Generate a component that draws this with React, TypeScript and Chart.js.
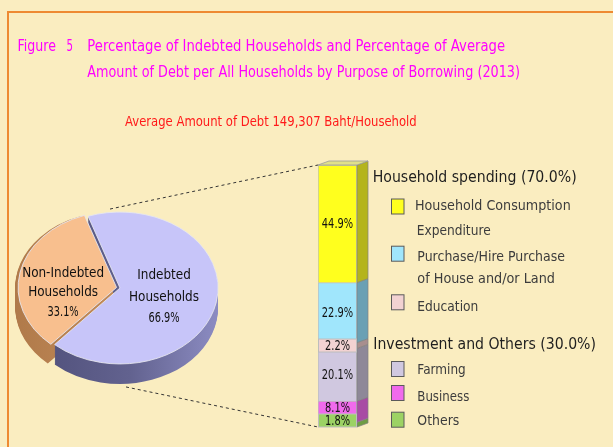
import React, { useEffect, useRef } from "react";
import { Chart, registerables } from "chart.js";
Chart.register(...registerables);

// ---------------- data ----------------
const titleFigure = "Figure";
const titleNumber = "5";
const titleLines = [
  "Percentage of Indebted Households and Percentage of Average",
  "Amount of Debt per All Households by Purpose of Borrowing (2013)",
];
const subtitle = "Average Amount of Debt 149,307 Baht/Household";

const pieCategories = ["Indebted Households", "Non-Indebted Households"];
const pieLabelLines = [["Indebted", "Households"], ["Non-Indebted", "Households"]];
const pieValues = [66.9, 33.1];
const pieColors = ["#C7C5F9", "#F8BF8E"];
const pieSideColors = [
  ["#4E4E78", "#62628F", "#8C8CC2"],
  ["#B07A4A", "#C48C5A", "#D6A06C"],
];
const pieOffsets = [0, 14];

const purposeCategories = [
  "Household Consumption Expenditure",
  "Purchase/Hire Purchase of House and/or Land",
  "Education",
  "Farming",
  "Business",
  "Others",
];
const purposeLegendLines = [
  ["Household Consumption", "Expenditure"],
  ["Purchase/Hire Purchase", "of House and/or Land"],
  ["Education"],
  ["Farming"],
  ["Business"],
  ["Others"],
];
const purposeValues = [44.9, 22.9, 2.2, 20.1, 8.1, 1.8];
const purposeColors = ["#FFFF1E", "#A0E6FC", "#F2D2D2", "#D0C8E0", "#F06AEC", "#9CD264"];
const purposeSideColors = ["#B4B41C", "#6AA0B4", "#A88E8E", "#8E8898", "#A84CA4", "#6E9C44"];
const stackOrder = [5, 4, 3, 2, 1, 0]; // bottom to top

const groupNames = ["Household spending", "Investment and Others"];
const groupValues = [70.0, 30.0];
const groupMembers = [[0, 1, 2], [3, 4, 5]];

// ---------------- layout ----------------
const FONT = "'DejaVu Sans', Verdana, sans-serif";
const BG = "#FAEDC0";
const PIE_BOX = { left: 0, top: 150, width: 318, height: 290 };
const BAR_BOX = { left: 300, top: 150, width: 90, height: 290 };
const SY = 0.775;
const DEPTH = 20;
const BAR_DX = 11;
const BAR_DY = 4;
const BAR_LABEL_H = 13;

const legendHeaderLayout = [
  { x: 372.7, y: 182.3, w: 204 },
  { x: 373.3, y: 349, w: 222.7 },
];
const legendLineLayout = [
  [{ x: 415, y: 210, w: 155.7 }, { x: 416.7, y: 234.5, w: 74 }],
  [{ x: 417.3, y: 260.7, w: 147.7 }, { x: 417.3, y: 283.3, w: 137.7 }],
  [{ x: 417.3, y: 310.7, w: 61 }],
  [{ x: 417.3, y: 374, w: 48.4 }],
  [{ x: 417.3, y: 401, w: 52 }],
  [{ x: 417.3, y: 425, w: 42 }],
];
const legendBoxTops = [198.5, 245.7, 294.3, 361, 385, 411.7];

const pieLabelLayout = [
  { f: 0.5, dx: -4, dy: 5, lh: 21.7 },
  { f: 0.5, dx: -2, dy: 17, lh: 19.2 },
];

function drawSquashed(
  ctx: CanvasRenderingContext2D,
  text: string,
  x: number,
  y: number,
  font: string,
  sx: number,
  color: string,
  baseline: CanvasTextBaseline = "alphabetic"
) {
  ctx.save();
  ctx.font = font;
  ctx.fillStyle = color;
  ctx.textAlign = "center";
  ctx.textBaseline = baseline;
  ctx.translate(x, y);
  ctx.scale(sx, 1);
  ctx.fillText(text, 0, 0);
  ctx.restore();
}

const bar3d = {
  id: "bar3d",
  afterDatasetsDraw(chart: any) {
    const ctx: CanvasRenderingContext2D = chart.ctx;
    const n = chart.data.datasets.length;
    const area = chart.chartArea;
    for (let di = 0; di < n; di++) {
      const el = chart.getDatasetMeta(di).data[0];
      const { x, y, base, width } = el.getProps(["x", "y", "base", "width"], true);
      const right = x + width / 2;
      const left = x - width / 2;
      const idx = stackOrder[di];
      ctx.save();
      ctx.beginPath();
      ctx.moveTo(right, y);
      ctx.lineTo(right + BAR_DX, y - BAR_DY);
      ctx.lineTo(right + BAR_DX, base - BAR_DY);
      ctx.lineTo(right, base);
      ctx.closePath();
      ctx.fillStyle = purposeSideColors[idx];
      ctx.fill();
      ctx.strokeStyle = "rgba(130,130,130,0.9)";
      ctx.lineWidth = 0.8;
      ctx.stroke();
      if (di === n - 1) {
        ctx.beginPath();
        ctx.moveTo(left, y);
        ctx.lineTo(left + BAR_DX, y - BAR_DY);
        ctx.lineTo(right + BAR_DX, y - BAR_DY);
        ctx.lineTo(right, y);
        ctx.closePath();
        ctx.fillStyle = "#E0E08C";
        ctx.fill();
        ctx.strokeStyle = "#9A9A9A";
        ctx.stroke();
      }
      ctx.restore();
    }
    // labels, bottom to top, kept from overlapping each other
    let prevCenter = Infinity;
    for (let di = 0; di < n; di++) {
      const el = chart.getDatasetMeta(di).data[0];
      const { x, y, base, width } = el.getProps(["x", "y", "base", "width"], true);
      const idx = stackOrder[di];
      const h = base - y;
      let c = (y + base) / 2;
      c = Math.min(c, prevCenter - BAR_LABEL_H);
      const small = h < BAR_LABEL_H;
      if (small) {
        let top = c - BAR_LABEL_H / 2;
        top = Math.max(area.top, Math.min(top, area.bottom - BAR_LABEL_H));
        c = top + BAR_LABEL_H / 2;
        ctx.save();
        ctx.fillStyle = purposeColors[idx];
        ctx.fillRect(x - width / 2 + 0.5, top, width - 1, BAR_LABEL_H);
        ctx.strokeStyle = "#BDBDBD";
        ctx.lineWidth = 1;
        ctx.strokeRect(x - width / 2 + 0.5, top, width - 1, BAR_LABEL_H);
        ctx.restore();
      }
      prevCenter = c;
      drawSquashed(ctx, purposeValues[idx].toFixed(1) + "%", x, c + 0.5, "14.5px " + FONT, 0.68, "#111", "middle");
    }
  },
};

function makePie3d(getBar: () => any) {
  return {
    id: "pie3d",
    beforeDatasetsDraw(chart: any) {
      const ctx: CanvasRenderingContext2D = chart.ctx;
      const arcs = chart.getDatasetMeta(0).data;
      if (!arcs.length) return;
      const cx = arcs[0].x;
      const cy = arcs[0].y;
      for (let d = DEPTH; d >= 1; d--) {
        for (let i = arcs.length - 1; i >= 0; i--) {
          const arc = arcs[i];
          const { startAngle, endAngle, outerRadius } = arc;
          const mid = (startAngle + endAngle) / 2;
          const sh = (pieOffsets[i] || 0) / 2;
          const ox = cx + Math.cos(mid) * sh;
          const oy = cy + Math.sin(mid) * sh * SY + d;
          const side = pieSideColors[i];
          const g = ctx.createLinearGradient(ox - outerRadius, 0, ox + outerRadius, 0);
          g.addColorStop(0, side[0]);
          g.addColorStop(0.55, side[1]);
          g.addColorStop(1, side[2]);
          ctx.beginPath();
          ctx.moveTo(ox, oy);
          ctx.ellipse(ox, oy, outerRadius, outerRadius * SY, 0, startAngle, endAngle);
          ctx.closePath();
          ctx.fillStyle = g;
          ctx.fill();
        }
      }
      ctx.save();
      ctx.translate(cx, cy);
      ctx.scale(1, SY);
      ctx.translate(-cx, -cy);
    },
    afterDatasetsDraw(chart: any) {
      const ctx: CanvasRenderingContext2D = chart.ctx;
      ctx.restore();
      const arcs = chart.getDatasetMeta(0).data;
      if (!arcs.length) return;
      const cx = arcs[0].x;
      const cy = arcs[0].y;
      const R = arcs[0].outerRadius;
      arcs.forEach((arc: any, i: number) => {
        const mid = (arc.startAngle + arc.endAngle) / 2;
        const sh = (pieOffsets[i] || 0) / 2;
        const L = pieLabelLayout[i];
        const rr = sh + arc.outerRadius * L.f;
        const ax = cx + Math.cos(mid) * rr + L.dx;
        const ay = cy + Math.sin(mid) * rr * SY + L.dy;
        pieLabelLines[i].forEach((t, k) => {
          drawSquashed(ctx, t, ax, ay + (k - 1) * L.lh, "14.5px " + FONT, 0.83, "#111");
        });
        drawSquashed(ctx, pieValues[i].toFixed(1) + "%", ax, ay + L.lh, "14px " + FONT, 0.7, "#111");
      });
      const bar = getBar();
      if (bar) {
        const n = bar.data.datasets.length;
        const topEl = bar.getDatasetMeta(n - 1).data[0];
        const botEl = bar.getDatasetMeta(0).data[0];
        const leftX = topEl.x - topEl.width / 2 + BAR_BOX.left - PIE_BOX.left;
        const topY = topEl.y + BAR_BOX.top - PIE_BOX.top;
        const botY = botEl.base + BAR_BOX.top - PIE_BOX.top;
        ctx.save();
        ctx.setLineDash([3, 3]);
        ctx.strokeStyle = "#333";
        ctx.lineWidth = 1;
        ctx.beginPath();
        ctx.moveTo(cx - 10, cy - R * SY - 3);
        ctx.lineTo(leftX, topY);
        ctx.moveTo(cx + 6, cy + R * SY + DEPTH + 3);
        ctx.lineTo(leftX, botY);
        ctx.stroke();
        ctx.restore();
      }
    },
  };
}

export default function App() {
  const pieRef = useRef<HTMLCanvasElement>(null);
  const barRef = useRef<HTMLCanvasElement>(null);

  useEffect(() => {
    const bar = new Chart(barRef.current as HTMLCanvasElement, {
      type: "bar",
      data: {
        labels: [""],
        datasets: stackOrder.map((i) => ({
          label: purposeCategories[i],
          data: [purposeValues[i]],
          backgroundColor: purposeColors[i],
          borderColor: "#BDBDBD",
          borderWidth: 1,
          barPercentage: 1,
          categoryPercentage: 1,
        })),
      },
      options: {
        animation: false,
        responsive: false,
        events: [],
        layout: { padding: { left: 18, right: 33, top: 15, bottom: 13 } },
        scales: {
          x: { stacked: true, display: false },
          y: { stacked: true, display: false, min: 0, max: 100 },
        },
        plugins: { legend: { display: false }, tooltip: { enabled: false } },
      },
      plugins: [bar3d],
    } as any);

    const pie = new Chart(pieRef.current as HTMLCanvasElement, {
      type: "pie",
      data: {
        labels: pieCategories,
        datasets: [
          {
            data: pieValues,
            backgroundColor: pieColors,
            borderColor: "#E6E6EE",
            borderWidth: 1,
            offset: pieOffsets,
          },
        ],
      },
      options: {
        animation: false,
        responsive: false,
        events: [],
        rotation: -19,
        radius: 98,
        layout: { padding: { left: 0, right: 78, top: 0, bottom: 14 } },
        plugins: { legend: { display: false }, tooltip: { enabled: false } },
      },
      plugins: [makePie3d(() => bar)],
    } as any);

    return () => {
      pie.destroy();
      bar.destroy();
    };
  }, []);

  const svgTexts: React.ReactNode[] = [];
  groupNames.forEach((g, gi) => {
    const H = legendHeaderLayout[gi];
    svgTexts.push(
      <text key={"h" + gi} x={H.x} y={H.y} fontSize={16} fill="#1E1E1E" textLength={H.w} lengthAdjust="spacingAndGlyphs">
        {`${g} (${groupValues[gi].toFixed(1)}%)`}
      </text>
    );
    groupMembers[gi].forEach((pi) => {
      svgTexts.push(
        <rect key={"b" + pi} x={391.5} y={legendBoxTops[pi] + 0.5} width={12.5} height={15} fill={purposeColors[pi]} stroke="#5A5A5A" strokeWidth={1} />
      );
      purposeLegendLines[pi].forEach((line, li) => {
        const P = legendLineLayout[pi][li];
        svgTexts.push(
          <text key={"t" + pi + "_" + li} x={P.x} y={P.y} fontSize={14.7} fill="#3C3C3C" textLength={P.w} lengthAdjust="spacingAndGlyphs">
            {line}
          </text>
        );
      });
    });
  });

  return (
    <div style={{ position: "absolute", left: 0, top: 0, width: 613, height: 447, background: BG, overflow: "hidden" }}>
      <div style={{ position: "absolute", left: 7, top: 11, width: 640, height: 480, borderTop: "2px solid #EE8A32", borderLeft: "2px solid #EE8A32" }} />
      <canvas
        ref={pieRef}
        width={PIE_BOX.width}
        height={PIE_BOX.height}
        style={{ position: "absolute", left: PIE_BOX.left, top: PIE_BOX.top, width: PIE_BOX.width, height: PIE_BOX.height }}
      />
      <canvas
        ref={barRef}
        width={BAR_BOX.width}
        height={BAR_BOX.height}
        style={{ position: "absolute", left: BAR_BOX.left, top: BAR_BOX.top, width: BAR_BOX.width, height: BAR_BOX.height }}
      />
      <svg width={613} height={447} style={{ position: "absolute", left: 0, top: 0, pointerEvents: "none" }} fontFamily={FONT}>
        <text x={17.5} y={51} fontSize={15.7} fill="#FF00FF" textLength={38.5} lengthAdjust="spacingAndGlyphs">{titleFigure}</text>
        <text x={66.5} y={51} fontSize={15.7} fill="#FF00FF" textLength={6.5} lengthAdjust="spacingAndGlyphs">{titleNumber}</text>
        <text x={87.3} y={51} fontSize={15.7} fill="#FF00FF" textLength={417.7} lengthAdjust="spacingAndGlyphs">{titleLines[0]}</text>
        <text x={87.3} y={77.3} fontSize={15.7} fill="#FF00FF" textLength={432.7} lengthAdjust="spacingAndGlyphs">{titleLines[1]}</text>
        <text x={125} y={126} fontSize={13.7} fill="#FF1A1A" textLength={291.7} lengthAdjust="spacingAndGlyphs">{subtitle}</text>
        {svgTexts}
      </svg>
    </div>
  );
}
